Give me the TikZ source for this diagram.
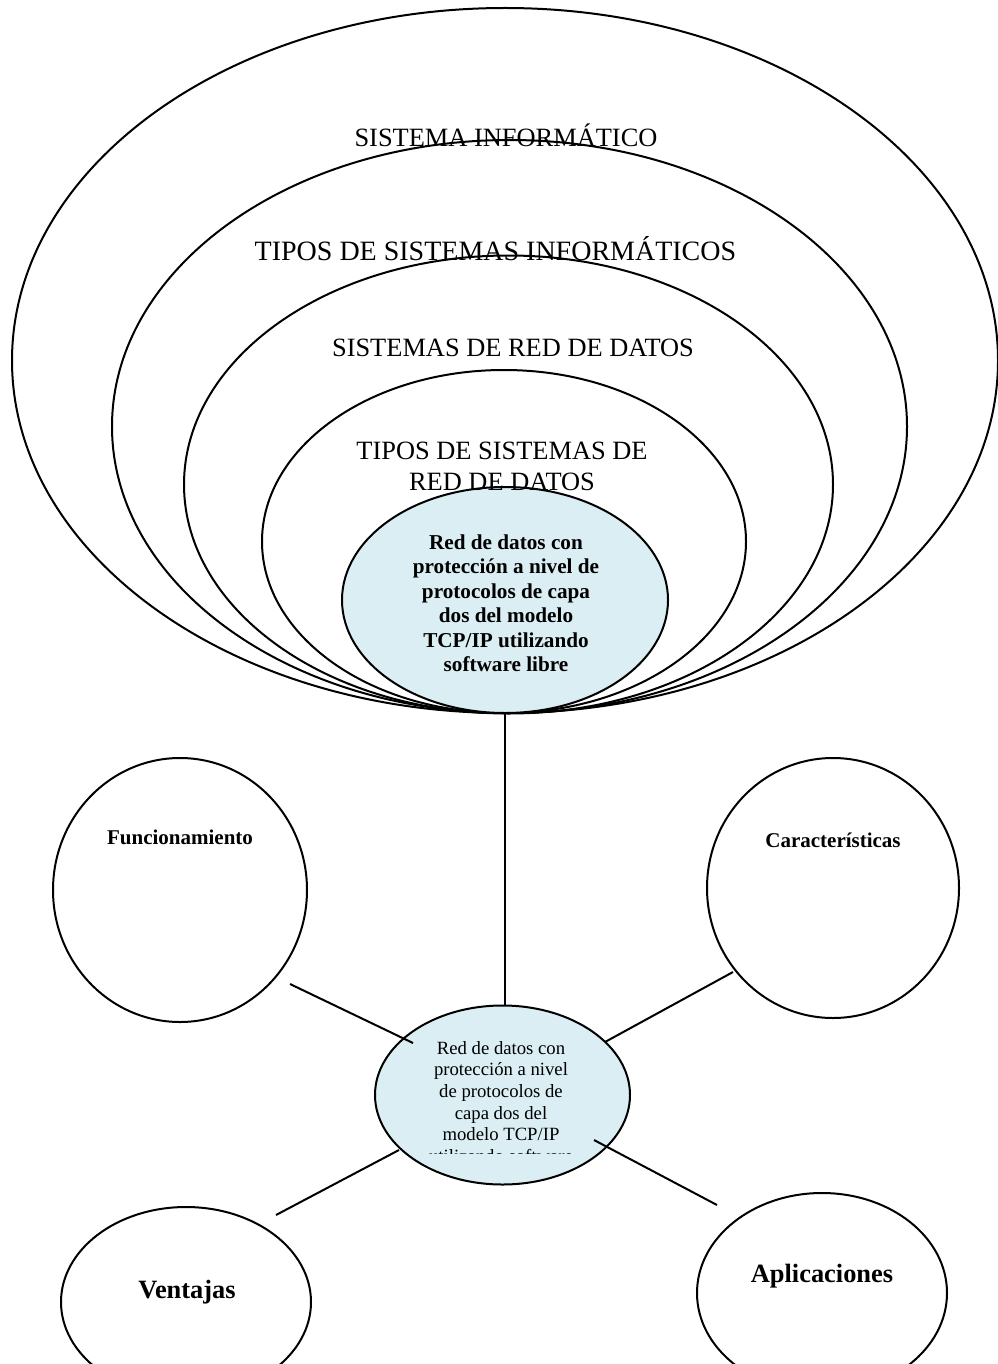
\documentclass[tikz,border=0pt]{standalone}
\usepackage{fontspec}
\setmainfont{Liberation Serif}
\usetikzlibrary{shapes.geometric}
\definecolor{paleblue}{RGB}{218,238,243}
\tikzset{
  oval/.style args={#1 by #2}{ellipse, draw=black, line width=1pt, inner sep=0pt, outer sep=0pt,
    minimum width=#1pt, minimum height=#2pt},
  ringlabel/.style={font=\fontsize{13.2pt}{15.5pt}\selectfont, align=center, inner sep=0pt},
  widelabel/.style={font=\fontsize{14pt}{16pt}\selectfont, inner sep=0pt},
  corelabel/.style={font=\bfseries\fontsize{10.6pt}{12.25pt}\selectfont, align=center, inner sep=0pt},
  hublabel/.style={font=\fontsize{9.35pt}{10.85pt}\selectfont, align=center, inner sep=0pt},
  smallbold/.style={font=\bfseries\fontsize{10.5pt}{12pt}\selectfont, inner sep=0pt},
  bigbold/.style={font=\bfseries\fontsize{13.2pt}{15pt}\selectfont, inner sep=0pt},
  link/.style={draw=black, line width=1pt}
}
\begin{document}
\begin{tikzpicture}[x=0.5pt, y=-0.5pt]
  \useasboundingbox (0,0) rectangle (997,1364);
  \fill[white] (0,0) rectangle (997,1364);

  % nested rings of the concept hierarchy
  \node[oval=493 by 352.5] (sys) at (505,360.5) {};
  \node[oval=397.5 by 286.5] (tipos) at (509.5,426.5) {};
  \node[oval=324.5 by 229] (redes) at (508.5,484.5) {};
  \node[oval=242 by 171.5] (tiposred) at (504,541.5) {};
  \node[oval=163 by 113, fill=paleblue] (core) at (505,600) {};

  \node[ringlabel] (lsys) at (506,135) {SISTEMA INFORMÁTICO};
  \node[widelabel] (ltipos) at (495.5,249) {TIPOS DE SISTEMAS INFORMÁTICOS};
  \node[ringlabel] (lredes) at (513,348) {SISTEMAS DE RED DE DATOS};
  \node[ringlabel] (ltiposred) at (502,466) {TIPOS DE SISTEMAS DE\\RED DE DATOS};
  \node[corelabel] (lcore) at (506,603) {Red de datos con\\protección a nivel de\\protocolos de capa\\dos del modelo\\TCP/IP utilizando\\software libre};

  % surrounding topics
  \node[oval=127 by 132] (func) at (180,890) {};
  \node[oval=126 by 130] (car) at (833,888) {};
  \node[oval=125 by 95] (vent) at (186,1302) {};
  \node[oval=125 by 100] (apl) at (822,1293) {};

  \node[smallbold] (lfunc) at (180,837) {Funcionamiento};
  \node[smallbold] (lcar) at (833,840) {Características};
  \node[bigbold] (lvent) at (187,1292) {Ventajas};
  \node[bigbold] (lapl) at (822,1276) {Aplicaciones};

  % central hub
  \node[oval=127.5 by 89.5, fill=paleblue] (hub) at (502.5,1095) {};
  \begin{scope}
    \clip (370,990) rectangle (640,1153);
    \node[hublabel] (lhub) at (501,1102) {Red de datos con\\protección a nivel\\de protocolos de\\capa dos del\\modelo TCP/IP\\utilizando software};
  \end{scope}

  % connector end points
  \coordinate (f1) at (290,984);   \coordinate (f2) at (413,1043);
  \coordinate (c1) at (733,972);   \coordinate (c2) at (605,1042);
  \coordinate (v1) at (276,1215);  \coordinate (v2) at (399,1150);
  \coordinate (a1) at (717,1205);  \coordinate (a2) at (594,1140);

  \draw[link] (core.south) -- (core.south |- hub.north);
  \draw[link] (f1) -- (f2);
  \draw[link] (c1) -- (c2);
  \draw[link] (v1) -- (v2);
  \draw[link] (a1) -- (a2);
\end{tikzpicture}
\end{document}
